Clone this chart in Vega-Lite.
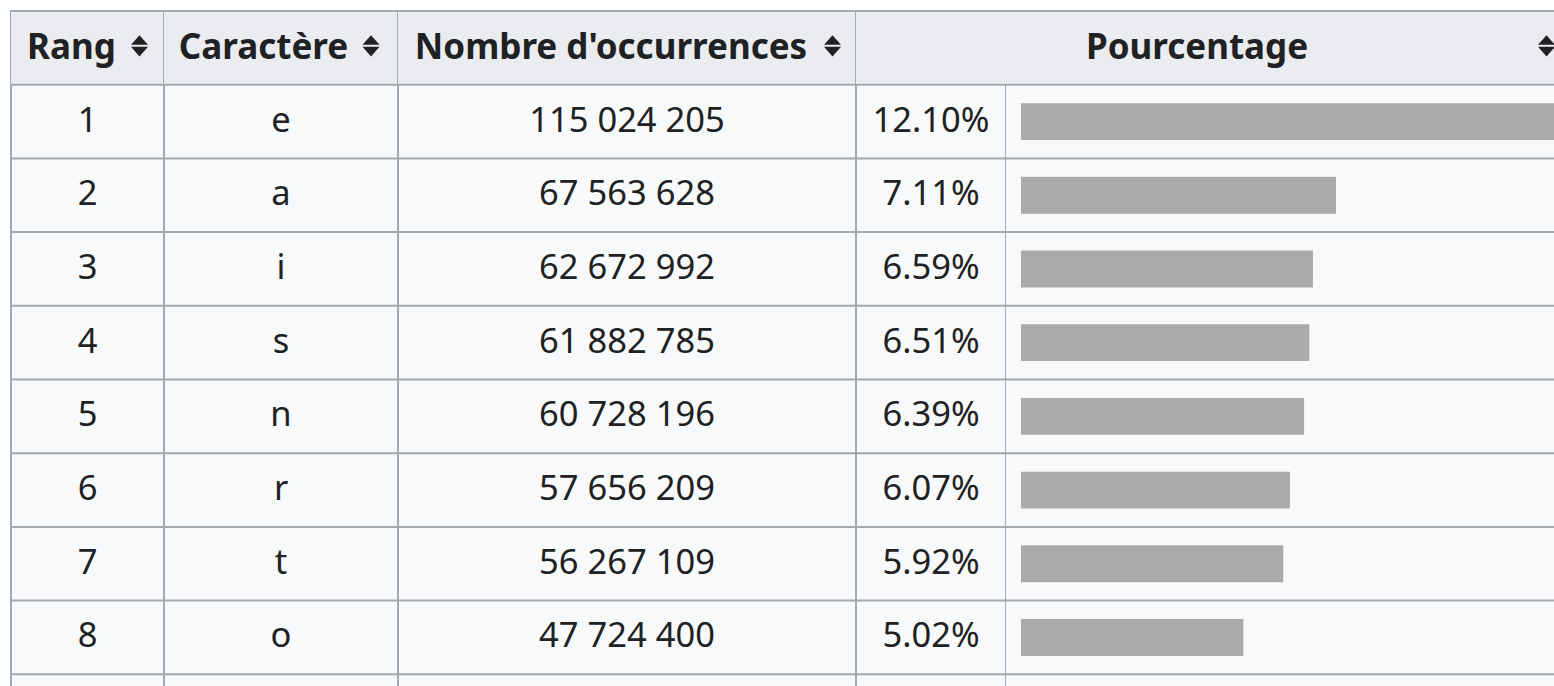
{
  "$schema": "https://vega.github.io/schema/vega-lite/v6.json",
  "background": "white",
  "padding": {"left": 9, "top": 9, "right": 0, "bottom": 0},
  "spacing": 0,
  "bounds": "flush",
  "config": {
    "view": {"stroke": "#a2a9b1", "strokeWidth": 2, "fill": "#f8f9fa"},
    "font": "Noto Sans",
    "text": {"font": "Noto Sans", "fontSize": 34.5, "color": "#202122", "baseline": "middle"},
    "locale": {"number": {"decimal": ".", "thousands": " ", "grouping": [3], "currency": ["", ""]}},
    "concat": {"spacing": 0}
  },
  "datasets": {
    "rows": [
      {"rang": 1, "car": "e", "n": 115024205, "pct": 0.1210},
      {"rang": 2, "car": "a", "n": 67563628, "pct": 0.0711},
      {"rang": 3, "car": "i", "n": 62672992, "pct": 0.0659},
      {"rang": 4, "car": "s", "n": 61882785, "pct": 0.0651},
      {"rang": 5, "car": "n", "n": 60728196, "pct": 0.0639},
      {"rang": 6, "car": "r", "n": 57656209, "pct": 0.0607},
      {"rang": 7, "car": "t", "n": 56267109, "pct": 0.0592},
      {"rang": 8, "car": "o", "n": 47724400, "pct": 0.0502}
    ],
    "one": [{"k": "h"}]
  },
  "hconcat": [
    {
      "width": 153, "height": 677,
      "data": {"name": "rows"},
      "layer": [
        {"data": {"name": "one"}, "mark": {"type": "rect", "color": "#eaecf0"},
         "encoding": {"y": {"datum": "h", "type": "ordinal", "scale": {"domain": ["h", 1, 2, 3, 4, 5, 6, 7, 8], "range": [0, 663.3], "paddingInner": 0, "paddingOuter": 0}, "axis": null}}},
        {"data": {"name": "one"}, "mark": {"type": "rule", "color": "#a2a9b1", "strokeWidth": 2},
         "encoding": {"y": {"datum": "h", "type": "ordinal", "bandPosition": 0}}},
        {"mark": {"type": "rule", "color": "#a2a9b1", "strokeWidth": 2},
         "encoding": {"y": {"field": "rang", "type": "ordinal", "bandPosition": 0}}},
        {"data": {"name": "one"}, "mark": {"type": "rule", "color": "#a2a9b1", "strokeWidth": 2},
         "encoding": {"y": {"datum": 8, "type": "ordinal", "bandPosition": 1}}},
        {"data": {"name": "one"}, "mark": {"type": "text", "fontWeight": "bold", "fontSize": 35, "dx": -16},
         "encoding": {"y": {"datum": "h", "type": "ordinal"}, "text": {"value": "Rang"}}},
        {"data": {"name": "one"}, "mark": {"type": "point", "filled": true, "color": "#202122", "opacity": 1, "size": 289, "strokeWidth": 0, "xOffset": 52, "yOffset": -2, "shape": "M-1,-0.12L1,-0.12L0,-1.25Z M-1,0.12L1,0.12L0,1.25Z"},
         "encoding": {"y": {"datum": "h", "type": "ordinal"}}},
        {"mark": {"type": "text"},
         "encoding": {"y": {"field": "rang", "type": "ordinal"}, "text": {"field": "rang", "type": "nominal"}}}
      ]
    },
    {
      "width": 234, "height": 677,
      "data": {"name": "rows"},
      "layer": [
        {"data": {"name": "one"}, "mark": {"type": "rect", "color": "#eaecf0"},
         "encoding": {"y": {"datum": "h", "type": "ordinal", "scale": {"domain": ["h", 1, 2, 3, 4, 5, 6, 7, 8], "range": [0, 663.3], "paddingInner": 0, "paddingOuter": 0}, "axis": null}}},
        {"data": {"name": "one"}, "mark": {"type": "rule", "color": "#a2a9b1", "strokeWidth": 2},
         "encoding": {"y": {"datum": "h", "type": "ordinal", "bandPosition": 0}}},
        {"mark": {"type": "rule", "color": "#a2a9b1", "strokeWidth": 2},
         "encoding": {"y": {"field": "rang", "type": "ordinal", "bandPosition": 0}}},
        {"data": {"name": "one"}, "mark": {"type": "rule", "color": "#a2a9b1", "strokeWidth": 2},
         "encoding": {"y": {"datum": 8, "type": "ordinal", "bandPosition": 1}}},
        {"data": {"name": "one"}, "mark": {"type": "text", "fontWeight": "bold", "fontSize": 35, "dx": -17.5},
         "encoding": {"y": {"datum": "h", "type": "ordinal"}, "text": {"value": "Caractère"}}},
        {"data": {"name": "one"}, "mark": {"type": "point", "filled": true, "color": "#202122", "opacity": 1, "size": 289, "strokeWidth": 0, "xOffset": 90, "yOffset": -2, "shape": "M-1,-0.12L1,-0.12L0,-1.25Z M-1,0.12L1,0.12L0,1.25Z"},
         "encoding": {"y": {"datum": "h", "type": "ordinal"}}},
        {"mark": {"type": "text"},
         "encoding": {"y": {"field": "rang", "type": "ordinal"}, "text": {"field": "car", "type": "nominal"}}}
      ]
    },
    {
      "width": 458, "height": 677,
      "data": {"name": "rows"},
      "layer": [
        {"data": {"name": "one"}, "mark": {"type": "rect", "color": "#eaecf0"},
         "encoding": {"y": {"datum": "h", "type": "ordinal", "scale": {"domain": ["h", 1, 2, 3, 4, 5, 6, 7, 8], "range": [0, 663.3], "paddingInner": 0, "paddingOuter": 0}, "axis": null}}},
        {"data": {"name": "one"}, "mark": {"type": "rule", "color": "#a2a9b1", "strokeWidth": 2},
         "encoding": {"y": {"datum": "h", "type": "ordinal", "bandPosition": 0}}},
        {"mark": {"type": "rule", "color": "#a2a9b1", "strokeWidth": 2},
         "encoding": {"y": {"field": "rang", "type": "ordinal", "bandPosition": 0}}},
        {"data": {"name": "one"}, "mark": {"type": "rule", "color": "#a2a9b1", "strokeWidth": 2},
         "encoding": {"y": {"datum": 8, "type": "ordinal", "bandPosition": 1}}},
        {"data": {"name": "one"}, "mark": {"type": "text", "fontWeight": "bold", "fontSize": 35, "dx": -16},
         "encoding": {"y": {"datum": "h", "type": "ordinal"}, "text": {"value": "Nombre d'occurrences"}}},
        {"data": {"name": "one"}, "mark": {"type": "point", "filled": true, "color": "#202122", "opacity": 1, "size": 289, "strokeWidth": 0, "xOffset": 205.5, "yOffset": -2, "shape": "M-1,-0.12L1,-0.12L0,-1.25Z M-1,0.12L1,0.12L0,1.25Z"},
         "encoding": {"y": {"datum": "h", "type": "ordinal"}}},
        {"mark": {"type": "text"},
         "encoding": {"y": {"field": "rang", "type": "ordinal"}, "text": {"field": "n", "type": "quantitative", "format": ",d"}}}
      ]
    },
    {
      "width": 150, "height": 677,
      "data": {"name": "rows"},
      "layer": [
        {"data": {"name": "one"}, "mark": {"type": "rect", "color": "#eaecf0"},
         "encoding": {"y": {"datum": "h", "type": "ordinal", "scale": {"domain": ["h", 1, 2, 3, 4, 5, 6, 7, 8], "range": [0, 663.3], "paddingInner": 0, "paddingOuter": 0}, "axis": null}}},
        {"data": {"name": "one"}, "mark": {"type": "rule", "color": "#a2a9b1", "strokeWidth": 2},
         "encoding": {"y": {"datum": "h", "type": "ordinal", "bandPosition": 0}}},
        {"mark": {"type": "rule", "color": "#a2a9b1", "strokeWidth": 2},
         "encoding": {"y": {"field": "rang", "type": "ordinal", "bandPosition": 0}}},
        {"data": {"name": "one"}, "mark": {"type": "rule", "color": "#a2a9b1", "strokeWidth": 2},
         "encoding": {"y": {"datum": 8, "type": "ordinal", "bandPosition": 1}}},
        {"mark": {"type": "text"},
         "encoding": {"y": {"field": "rang", "type": "ordinal"}, "text": {"field": "pct", "type": "quantitative", "format": ".2%"}}}
      ]
    },
    {
      "width": 549, "height": 677,
      "view": {"stroke": null, "fill": "#f8f9fa"},
      "data": {"name": "rows"},
      "layer": [
        {"data": {"name": "one"}, "mark": {"type": "rect", "color": "#eaecf0"},
         "encoding": {"y": {"datum": "h", "type": "ordinal", "scale": {"domain": ["h", 1, 2, 3, 4, 5, 6, 7, 8], "range": [0, 663.3], "paddingInner": 0, "paddingOuter": 0}, "axis": null}}},
        {"data": {"name": "one"}, "mark": {"type": "rule", "color": "#a2a9b1", "strokeWidth": 2},
         "encoding": {"y": {"datum": "h", "type": "ordinal", "bandPosition": 0}}},
        {"mark": {"type": "rule", "color": "#a2a9b1", "strokeWidth": 2},
         "encoding": {"y": {"field": "rang", "type": "ordinal", "bandPosition": 0}}},
        {"data": {"name": "one"}, "mark": {"type": "rule", "color": "#a2a9b1", "strokeWidth": 2},
         "encoding": {"y": {"datum": 8, "type": "ordinal", "bandPosition": 1}}},
        {"data": {"name": "one"}, "mark": {"type": "text", "fontWeight": "bold", "fontSize": 35, "dx": -83.5},
         "encoding": {"y": {"datum": "h", "type": "ordinal"}, "text": {"value": "Pourcentage"}}},
        {"data": {"name": "one"}, "mark": {"type": "point", "filled": true, "color": "#202122", "opacity": 1, "size": 289, "strokeWidth": 0, "xOffset": 266, "yOffset": -2, "shape": "M-1,-0.12L1,-0.12L0,-1.25Z M-1,0.12L1,0.12L0,1.25Z"},
         "encoding": {"y": {"datum": "h", "type": "ordinal"}}},
        {"mark": {"type": "bar", "color": "#aaaaaa", "height": {"band": 0.5}, "clip": true},
         "encoding": {
           "y": {"field": "rang", "type": "ordinal"},
           "x": {"field": "pct", "type": "quantitative", "scale": {"domain": [-0.003386, 0.120542], "nice": false, "zero": false}, "axis": null},
           "x2": {"datum": 0}
         }}
      ]
    }
  ]
}
